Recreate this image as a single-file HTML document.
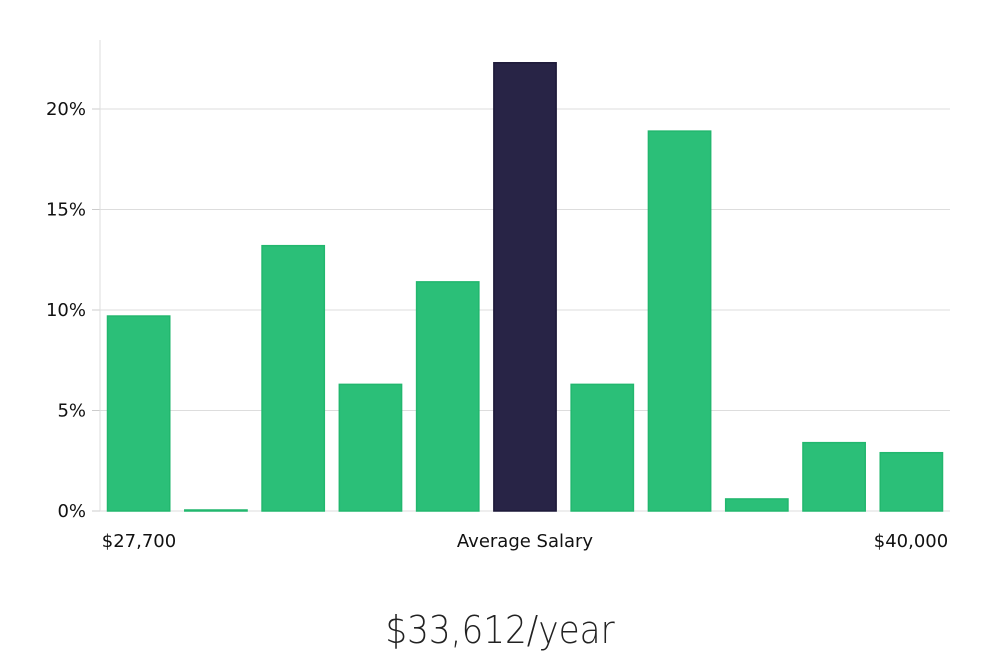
<!DOCTYPE html>
<html><head><meta charset="utf-8"><style>
body{margin:0;background:#fff;font-family:"DejaVu Sans","Liberation Sans",sans-serif}
#wrap{position:relative;width:1000px;height:660px}
#title{position:absolute;left:0;width:1000px;top:608px;text-align:center;font-size:38px;color:#222;font-family:"DejaVu Sans","Liberation Sans",sans-serif;font-weight:300;transform:scaleX(0.9)}
</style></head><body>
<div id="wrap">
<svg id="chart" width="1000" height="660"></svg>
<div id="title">$33,612/year</div>
</div>
<script>
const categories=["b1","b2","b3","b4","b5","b6","b7","b8","b9","b10","b11"];
const values=[9.7,0.05,13.2,6.3,11.4,22.3,6.3,18.9,0.6,3.4,2.9];
const highlightIndex=5;
const yTicks=[0,5,10,15,20];
const xLabels=["$27,700","Average Salary","$40,000"];
const NS="http://www.w3.org/2000/svg";
const svg=document.getElementById('chart');
const L=100,R=950,B=511,T=40;
const y=v=>B-v*(511-109)/20;
const slot=(R-L)/categories.length;
const x=i=>L+i*slot;
function mk(t,a){const e=document.createElementNS(NS,t);for(const k in a)e.setAttribute(k,a[k]);svg.appendChild(e);return e;}
yTicks.forEach(t=>{
  if(t>0){const g=mk('line',{x1:L,x2:R,y1:y(t),y2:y(t),stroke:'#ddd','stroke-width':1});
  
  }
  const tk=mk('line',{x1:92,x2:L,y1:y(t),y2:y(t),stroke:'#ccc'});
  
  
  const tx=mk('text',{x:86,y:y(t)+6,'text-anchor':'end','font-size':18,fill:'#111'});
  tx.textContent=t+'%';
  
  
});
const ax=mk('line',{x1:L,x2:L,y1:T,y2:B,stroke:'#ddd'});


const bx=mk('line',{x1:L,x2:R,y1:B,y2:B,stroke:'#ddd'});


values.forEach((v,i)=>{
  const hi=i===highlightIndex;
  const r=mk('rect',{x:x(i)+7.5,y:y(v),width:slot-15,height:Math.max(1,B-y(v)),fill:hi?'#282446':'#2bbf78',stroke:hi?'#1c1838':'#22b76e','stroke-width':1.5});
  
  
});
const lx=[139,525,911];
xLabels.forEach((s,i)=>{
  const t=mk('text',{x:lx[i],y:547,'text-anchor':'middle','font-size':18,fill:'#111'});
  t.textContent=s;
  
  
});
</script>
</body></html>
